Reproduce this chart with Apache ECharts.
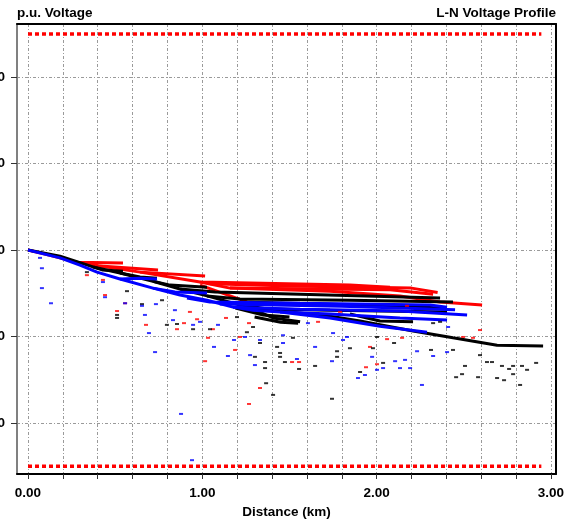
<!DOCTYPE html>
<html>
<head>
<meta charset="utf-8">
<script src="https://cdn.jsdelivr.net/npm/echarts@6/dist/echarts.min.js"></script>
<style>
  html, body { margin: 0; padding: 0; background: #fff; }
  #chart { width: 566px; height: 521px; }
</style>
</head>
<body>
<div id="chart"></div>
<script>
// Axis ticks and labels
const xTickValues = [0, 0.2, 0.4, 0.6, 0.8, 1.0, 1.2, 1.4, 1.6, 1.8, 2.0, 2.2, 2.4, 2.6, 2.8, 3.0];
const xLabelValues = [0, 1, 2, 3];
const yTickValues = [0.96, 0.98, 1.00, 1.02, 1.04];

// Voltage limits (p.u.) drawn across the feeder length
const limitDistance = [0, 2.945];
const upperLimit = 1.05;
const lowerLimit = 0.95;

// Phase A (red) branches: [distance km, voltage p.u.]
const phaseA1 = [[0, 1.0], [0.126, 0.9988], [0.281, 0.9972], [0.545, 0.9970]];
const phaseA2 = [[0.281, 0.9972], [0.413, 0.9963], [0.746, 0.9954]];
const phaseA3 = [[0.413, 0.9963], [0.643, 0.9949], [1.016, 0.9940]];
const phaseA4 = [[0.643, 0.9949], [0.987, 0.9926], [1.847, 0.9919], [2.077, 0.9914]];
const phaseA5 = [[0.987, 0.9926], [1.159, 0.9912], [2.077, 0.9908], [2.324, 0.9898]];
const phaseA6 = [[1.159, 0.9912], [1.733, 0.9905], [2.134, 0.9894], [2.364, 0.9880], [2.605, 0.9873]];
const phaseA7 = [[0.987, 0.9919], [1.256, 0.9880], [1.561, 0.9873], [2.134, 0.9871]];
const phaseA8 = [[1.044, 0.9922], [1.500, 0.9917], [2.200, 0.9912], [2.350, 0.9902]];

// Phase B (black) branches
const phaseB1 = [[0, 1.0], [0.184, 0.9986], [0.373, 0.9961], [0.528, 0.9947], [0.717, 0.9928], [0.872, 0.9910],
  [1.027, 0.9894], [1.199, 0.9875], [1.446, 0.9859], [1.733, 0.9847], [1.905, 0.9836], [2.209, 0.9813],
  [2.438, 0.9797], [2.691, 0.9780], [2.955, 0.9778]];
const phaseB2 = [[0.373, 0.9961], [0.430, 0.9954], [0.545, 0.9951]];
const phaseB3 = [[0.528, 0.9947], [0.643, 0.9938], [0.740, 0.9935]];
const phaseB4 = [[0.717, 0.9928], [0.815, 0.9919], [1.027, 0.9914]];
const phaseB5 = [[0.872, 0.9910], [1.073, 0.9903], [1.561, 0.9898], [2.364, 0.9889]];
const phaseB6 = [[1.027, 0.9894], [1.216, 0.9887], [1.847, 0.9884], [2.438, 0.9880]];
const phaseB7 = [[1.199, 0.9875], [1.331, 0.9864], [1.733, 0.9861], [2.404, 0.9857]];
const phaseB8 = [[1.302, 0.9861], [1.406, 0.9843], [1.561, 0.9834]];
const phaseB9 = [[1.847, 0.9852], [2.019, 0.9836], [2.209, 0.9834]];
const phaseB10 = [[1.216, 0.9880], [1.900, 0.9873], [2.400, 0.9866]];
const phaseB11 = [[1.190, 0.9866], [1.350, 0.9850], [1.500, 0.9845]];
const phaseB12 = [[1.300, 0.9845], [1.450, 0.9833], [1.550, 0.9831]];

// Phase C (blue) branches
const phaseC1 = [[0, 1.0], [0.184, 0.9982], [0.298, 0.9965], [0.396, 0.9949], [0.528, 0.9933], [0.717, 0.9912],
  [0.872, 0.9896], [1.027, 0.9884], [1.176, 0.9868], [1.291, 0.9861], [1.446, 0.9857], [1.733, 0.9843],
  [2.019, 0.9824], [2.289, 0.9810]];
const phaseC2 = [[0.528, 0.9933], [0.643, 0.9935], [0.740, 0.9933]];
const phaseC3 = [[0.717, 0.9912], [0.843, 0.9903], [1.027, 0.9901]];
const phaseC4 = [[0.912, 0.9889], [1.044, 0.9880], [1.561, 0.9877], [2.306, 0.9873], [2.404, 0.9868]];
const phaseC5 = [[1.176, 0.9868], [1.561, 0.9863], [2.134, 0.9859], [2.519, 0.9850]];
const phaseC6 = [[1.446, 0.9857], [1.733, 0.9852], [2.134, 0.9843], [2.404, 0.9838]];
const phaseC7 = [[1.100, 0.9875], [1.800, 0.9870], [2.450, 0.9862]];

// Single-phase service buses (short segments)
const phaseABuses = [[0.430, 0.9931], [0.442, 0.9896], [0.557, 0.9877], [0.511, 0.9859], [0.855, 0.9817],
  [0.895, 0.9831], [0.929, 0.9857], [0.970, 0.9840], [1.061, 0.9817], [1.016, 0.9743], [1.033, 0.9797],
  [1.216, 0.9799], [1.268, 0.9644], [1.268, 0.9831], [1.331, 0.9681], [1.555, 0.9741], [1.515, 0.9741],
  [1.939, 0.9729], [1.962, 0.9776], [2.002, 0.9736], [2.060, 0.9794], [2.146, 0.9797], [2.174, 0.9871],
  [2.496, 0.9799], [2.553, 0.9797], [2.593, 0.9815], [0.338, 0.9942], [0.677, 0.9827], [1.136, 0.9843],
  [1.664, 0.9834], [1.790, 0.9857], [1.188, 0.9769]];
const phaseBBuses = [[0.338, 0.9949], [0.568, 0.9905], [0.511, 0.9850], [0.511, 0.9843], [0.654, 0.9875],
  [0.769, 0.9884], [0.797, 0.9827], [0.855, 0.9829], [0.947, 0.9817], [1.044, 0.9817], [1.199, 0.9845],
  [1.256, 0.9810], [1.291, 0.9822], [1.331, 0.9785], [1.302, 0.9753], [1.360, 0.9741], [1.360, 0.9727],
  [1.366, 0.9692], [1.406, 0.9665], [1.429, 0.9776], [1.446, 0.9762], [1.446, 0.9753], [1.474, 0.9741],
  [1.520, 0.9797], [1.555, 0.9725], [1.647, 0.9732], [1.744, 0.9656], [1.773, 0.9753], [1.773, 0.9766],
  [1.847, 0.9773], [1.905, 0.9718], [1.979, 0.9773], [2.002, 0.9799], [2.037, 0.9739], [2.100, 0.9785],
  [2.312, 0.9769], [2.324, 0.9831], [2.364, 0.9834], [2.438, 0.9769], [2.456, 0.9706], [2.490, 0.9713],
  [2.507, 0.9732], [2.582, 0.9706], [2.593, 0.9757], [2.633, 0.9741], [2.662, 0.9741], [2.691, 0.9704],
  [2.719, 0.9732], [2.731, 0.9699], [2.760, 0.9725], [2.783, 0.9713], [2.783, 0.9732], [2.823, 0.9688],
  [2.834, 0.9732], [2.863, 0.9723], [2.915, 0.9739]];
const phaseCBuses = [[0.069, 0.9982], [0.080, 0.9958], [0.080, 0.9912], [0.132, 0.9877], [0.430, 0.9926],
  [0.442, 0.9891], [0.557, 0.9877], [0.654, 0.9871], [0.671, 0.9850], [0.734, 0.9875], [0.694, 0.9808],
  [0.729, 0.9764], [0.843, 0.9861], [0.832, 0.9838], [0.878, 0.9621], [0.947, 0.9827], [0.987, 0.9834],
  [1.090, 0.9827], [1.067, 0.9776], [1.147, 0.9755], [1.182, 0.9792], [1.245, 0.9799], [1.274, 0.9757],
  [1.302, 0.9734], [1.331, 0.9792], [1.463, 0.9785], [1.463, 0.9803], [1.543, 0.9748], [1.606, 0.9831],
  [1.647, 0.9776], [1.744, 0.9743], [1.750, 0.9808], [1.807, 0.9792], [1.830, 0.9799], [1.893, 0.9704],
  [1.933, 0.9711], [1.974, 0.9753], [2.002, 0.9723], [2.037, 0.9727], [2.106, 0.9743], [2.134, 0.9727],
  [2.163, 0.9746], [2.192, 0.9727], [2.232, 0.9766], [2.260, 0.9688], [2.324, 0.9755], [2.404, 0.9764],
  [2.410, 0.9822], [0.941, 0.9514]];

const RED = '#ff0000', BLACK = '#000000', BLUE = '#0000ff';
const FONT = "'Liberation Sans', Arial, sans-serif";

function branch(data, color) {
  return {
    type: 'line', data: data, symbol: 'none', showSymbol: false, silent: true,
    lineStyle: { color: color, width: 3 }, itemStyle: { color: color }, z: 3
  };
}
function buses(data, color) {
  return {
    type: 'scatter', data: data, symbol: 'rect', symbolSize: [4, 2], silent: true,
    itemStyle: { color: color, opacity: 0.8 }, z: 4
  };
}
function limit(value) {
  return {
    type: 'line', data: limitDistance.map(d => [d, value]), symbol: 'none', silent: true,
    lineStyle: { color: RED, width: 3.5, type: [4, 3], cap: 'butt' }, z: 2
  };
}

const series = [limit(upperLimit), limit(lowerLimit)];
[phaseA1, phaseA2, phaseA3, phaseA4, phaseA5, phaseA6, phaseA7, phaseA8].forEach(d => series.push(branch(d, RED)));
[phaseB1, phaseB2, phaseB3, phaseB4, phaseB5, phaseB6, phaseB7, phaseB8, phaseB9, phaseB10, phaseB11, phaseB12]
  .forEach(d => series.push(branch(d, BLACK)));
[phaseC1, phaseC2, phaseC3, phaseC4, phaseC5, phaseC6, phaseC7].forEach(d => series.push(branch(d, BLUE)));
series.push(buses(phaseABuses, RED), buses(phaseBBuses, BLACK), buses(phaseCBuses, BLUE));

const chart = echarts.init(document.getElementById('chart'), null, { renderer: 'canvas' });
const xMin = -0.063, xMax = 3.029, yMin = 0.9482, yMax = 1.0523;
const gridLine = { show: true, lineStyle: { color: '#9a9a9a', width: 1, type: [3, 2, 1, 2] } };
const titleStyle = { fontSize: 13.5, fontWeight: 'bold', color: '#000', fontFamily: FONT };

chart.setOption({
  animation: false,
  backgroundColor: '#ffffff',
  title: [
    { text: 'p.u. Voltage', left: 17, top: 6, padding: 0, textStyle: titleStyle },
    { text: 'L-N Voltage Profile', right: 10, top: 6, padding: 0, textStyle: titleStyle }
  ],
  grid: { left: 17, right: 10, top: 24, bottom: 47, show: false, outerBoundsMode: 'none', containLabel: false },
  xAxis: [{
    type: 'value', min: xMin, max: xMax, splitNumber: 15,
    name: 'Distance (km)', nameLocation: 'middle', nameGap: 28,
    nameTextStyle: { fontSize: 13.5, fontWeight: 'bold', color: '#000', fontFamily: FONT },
    axisLine: { show: true, onZero: false, lineStyle: { color: '#000', width: 2 } },
    axisTick: { show: true, length: 5, customValues: xTickValues, lineStyle: { color: '#333', width: 1 } },
    axisLabel: {
      show: true, margin: 12, customValues: xLabelValues, formatter: v => v.toFixed(2),
      fontSize: 13.5, fontWeight: 'bold', color: '#000', fontFamily: FONT
    },
    splitLine: gridLine
  }, {
    type: 'value', position: 'top', min: xMin, max: xMax,
    axisLine: { show: true, onZero: false, lineStyle: { color: '#000', width: 2 } },
    axisTick: { show: false }, axisLabel: { show: false }, splitLine: { show: false }
  }],
  yAxis: [{
    type: 'value', min: yMin, max: yMax, splitNumber: 5,
    axisLine: { show: true, onZero: false, lineStyle: { color: '#808080', width: 2 } },
    axisTick: { show: true, length: 6, customValues: yTickValues, lineStyle: { color: '#333', width: 1 } },
    axisLabel: {
      show: true, margin: 12, customValues: yTickValues, formatter: v => v.toFixed(3),
      fontSize: 13.5, fontWeight: 'bold', color: '#000', fontFamily: FONT
    },
    splitLine: gridLine
  }, {
    type: 'value', position: 'right', min: yMin, max: yMax,
    axisLine: { show: true, onZero: false, lineStyle: { color: '#000', width: 2 } },
    axisTick: { show: false }, axisLabel: { show: false }, splitLine: { show: false }
  }],
  series: series
});
</script>
</body>
</html>
